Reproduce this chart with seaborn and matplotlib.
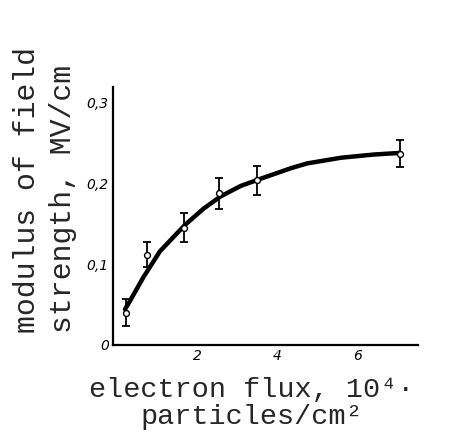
import matplotlib
matplotlib.use("Agg")
import matplotlib.pyplot as plt
import seaborn as sns
import pandas as pd

# measured points
flux = [0.23, 0.74, 1.68, 2.55, 3.49, 7.05]
field = [0.040, 0.112, 0.145, 0.188, 0.204, 0.237]
field_err = [0.017, 0.016, 0.018, 0.019, 0.018, 0.0165]

# fitted curve
curve_x = [0.2, 0.33, 0.66, 1.07, 1.49, 1.7, 2.16, 2.58, 3.08, 3.58, 3.9,
           4.33, 4.74, 5.58, 6.4, 7.05]
curve_y = [0.044, 0.055, 0.084, 0.116, 0.138, 0.149, 0.169, 0.184, 0.197,
           0.206, 0.2115, 0.219, 0.225, 0.232, 0.236, 0.238]

xticks = [2, 4, 6]
xtick_labels = ["2", "4", "6"]
yticks = [0, 0.1, 0.2, 0.3]
ytick_labels = ["0", "0,1", "0,2", "0,3"]

sns.set_style("white")
mono = ["Liberation Mono", "DejaVu Sans Mono"]

fig = plt.figure(figsize=(4.5, 4.36), dpi=100)
ax = fig.add_axes([0.251, 0.209, 0.678, 0.592])

df_curve = pd.DataFrame({"x": curve_x, "y": curve_y})
sns.lineplot(data=df_curve, x="x", y="y", ax=ax, color="black", linewidth=3.2,
             sort=True, estimator=None, solid_capstyle="round",
             solid_joinstyle="round")
ax.errorbar(flux, field, yerr=field_err, fmt="none", ecolor="black",
            elinewidth=1.3, capsize=3, capthick=1.3, zorder=3)
df_pts = pd.DataFrame({"x": flux, "y": field})
sns.scatterplot(data=df_pts, x="x", y="y", ax=ax, marker="o", s=18,
                facecolor="white", edgecolor="black", linewidth=1.0, zorder=4)

ax.set_xlim(-0.1, 7.5)
ax.set_ylim(0, 0.32)
ax.set_xticks(xticks)
ax.set_xticklabels(xtick_labels, fontsize=10, fontstyle="italic")
ax.set_yticks(yticks)
ax.set_yticklabels(ytick_labels, fontsize=10, fontstyle="italic")
ax.tick_params(direction="in", length=4, width=1.2, pad=3, colors="black")

for s in ["top", "right"]:
    ax.spines[s].set_visible(False)
for s in ["left", "bottom"]:
    ax.spines[s].set_color("black")
    ax.spines[s].set_linewidth(1.6)

ax.set_xlabel("")
ax.set_ylabel("")
fig.text(0.56, 0.075, "electron flux, 10\u2074\u00b7\nparticles/cm\u00b2",
         ha="center", va="center", family=mono, fontsize=20.5, linespacing=1.05)
fig.text(0.1, 1 - 333 / 436, "modulus of field\nstrength, MV/cm", rotation=90,
         ha="center", va="bottom", multialignment="left",
         family=mono, fontsize=21.5, linespacing=1.35)

fig.savefig("out.png", dpi=100)
